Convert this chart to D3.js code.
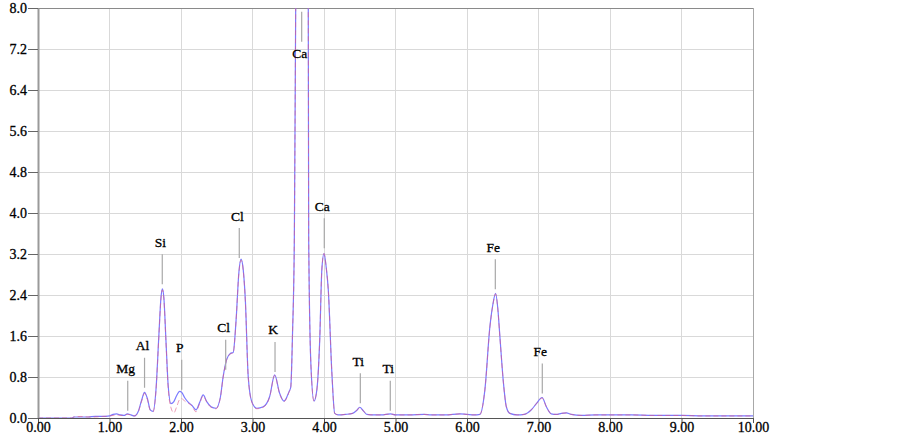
<!DOCTYPE html>
<html>
<head>
<meta charset="utf-8">
<script src="https://cdn.jsdelivr.net/npm/d3@7"></script>
<style>
  html, body { margin: 0; padding: 0; background: #fff; }
  svg { display: block; }
  text { font-family: "Liberation Serif", "Times New Roman", serif; stroke: #000; stroke-width: 0.3px; }
</style>
</head>
<body>
<svg id="chart" width="903" height="443"></svg>
<script>
// ---- data ----
const energy = [0.00,0.48,0.50,0.60,0.70,0.80,0.90,1.00,1.05,1.10,1.15,1.20,1.25,1.30,1.35,1.40,1.45,1.49,1.53,1.57,1.61,1.65,1.69,1.72,1.74,1.76,1.79,1.82,1.86,1.90,1.94,1.98,2.01,2.05,2.10,2.15,2.21,2.26,2.31,2.36,2.42,2.49,2.55,2.59,2.64,2.69,2.73,2.77,2.81,2.84,2.87,2.90,2.94,2.99,3.06,3.15,3.24,3.31,3.38,3.44,3.51,3.535,3.56,3.585,3.604,3.64,3.69,3.74,3.78,3.786,3.818,3.86,3.90,3.94,3.97,4.00,4.03,4.06,4.11,4.15,4.20,4.30,4.40,4.46,4.50,4.55,4.60,4.70,4.80,4.93,5.00,5.20,5.40,5.50,5.70,5.90,6.00,6.10,6.18,6.25,6.32,6.36,6.40,6.43,6.46,6.51,6.55,6.60,6.70,6.80,6.90,6.97,7.05,7.11,7.18,7.25,7.32,7.39,7.46,7.60,7.80,8.00,8.30,8.60,9.00,9.30,9.60,10.00];
const blueCounts = [0,0,0.02,0.02,0.02,0.03,0.03,0.04,0.07,0.08,0.06,0.05,0.08,0.06,0.04,0.12,0.35,0.50,0.38,0.16,0.13,0.55,1.60,2.35,2.52,2.35,1.50,0.65,0.28,0.32,0.44,0.52,0.50,0.40,0.31,0.25,0.16,0.30,0.45,0.32,0.22,0.19,0.40,0.81,1.15,1.26,1.28,1.90,2.85,3.10,2.90,2.30,0.81,0.32,0.19,0.22,0.42,0.84,0.48,0.33,0.51,0.60,1.66,3.47,8.0,18,24,18,8.0,3.47,1.0,0.33,0.55,1.52,2.90,3.21,2.95,2.50,0.88,0.09,0.06,0.07,0.09,0.15,0.21,0.14,0.07,0.06,0.06,0.08,0.06,0.06,0.07,0.06,0.06,0.08,0.07,0.06,0.07,0.55,1.78,2.20,2.43,2.15,1.59,0.68,0.22,0.09,0.06,0.07,0.16,0.28,0.40,0.22,0.08,0.07,0.09,0.10,0.07,0.05,0.06,0.06,0.06,0.05,0.05,0.04,0.04,0.04];
const redCounts = [0,0,0.02,0.03,0.02,0.02,0.03,0.04,0.05,0.06,0.05,0.05,0.07,0.06,0.04,0.11,0.33,0.48,0.36,0.15,0.12,0.53,1.58,2.33,2.50,2.33,1.48,0.60,0.20,0.10,0.22,0.36,0.38,0.33,0.29,0.24,0.12,0.28,0.43,0.31,0.21,0.18,0.39,0.80,1.14,1.25,1.27,1.89,2.84,3.08,2.88,2.28,0.80,0.31,0.18,0.21,0.41,0.83,0.47,0.32,0.50,0.60,1.66,3.47,8.0,18,24,18,8.0,3.47,1.0,0.33,0.55,1.52,2.90,3.21,2.95,2.50,0.88,0.09,0.06,0.07,0.09,0.15,0.20,0.14,0.07,0.06,0.06,0.08,0.06,0.06,0.07,0.06,0.06,0.08,0.07,0.06,0.07,0.55,1.77,2.19,2.42,2.14,1.58,0.68,0.22,0.09,0.06,0.07,0.16,0.28,0.39,0.22,0.08,0.07,0.09,0.10,0.07,0.05,0.06,0.06,0.06,0.05,0.05,0.04,0.04,0.04];

const peakNames  = ["Mg","Al","Si","P","Cl","Cl","K","Ca","Ca","Ti","Ti","Fe","Fe"];
const peakEnergy = [1.255,1.49,1.738,2.01,2.625,2.815,3.315,3.688,4.004,4.508,4.927,6.396,7.053];
const peakMark   = [0.14,0.59,2.61,0.55,0.94,3.12,0.90,7.34,3.31,0.29,0.14,2.51,0.48];
const peakLabelBelow = [false,false,false,false,false,false,false,true,false,false,false,false,false];

const xTicks = [0,1,2,3,4,5,6,7,8,9,10];
const yTicks = [0,0.8,1.6,2.4,3.2,4.0,4.8,5.6,6.4,7.2,8.0];

// ---- layout ----
const svg = d3.select("#chart");
const L = 38, R = 753, T = 8, B = 418;
const x = d3.scaleLinear().domain([0, 10]).range([L, R]);
const y = d3.scaleLinear().domain([0, 8]).range([B, T]);

// grid
svg.append("g").selectAll("line").data(yTicks.slice(1, -1)).join("line")
  .attr("x1", L).attr("x2", R).attr("y1", d => y(d)).attr("y2", d => y(d))
  .attr("stroke", "#d9d9d9").attr("stroke-width", 1).attr("shape-rendering", "crispEdges");
svg.append("g").selectAll("line").data(xTicks.slice(1, -1)).join("line")
  .attr("y1", T).attr("y2", B).attr("x1", d => x(d)).attr("x2", d => x(d))
  .attr("stroke", "#d9d9d9").attr("stroke-width", 1).attr("shape-rendering", "crispEdges");

// frame (top and right)
svg.append("line").attr("x1", L).attr("x2", R).attr("y1", T).attr("y2", T)
  .attr("stroke", "#8a8a8a").attr("shape-rendering", "crispEdges");
svg.append("line").attr("x1", R).attr("x2", R).attr("y1", T).attr("y2", B)
  .attr("stroke", "#a8a8a8").attr("shape-rendering", "crispEdges");

// clip
svg.append("defs").append("clipPath").attr("id", "plot")
  .append("rect").attr("x", L).attr("y", T).attr("width", R - L).attr("height", B - T);

// series
const pts = (vals) => energy.map((e, i) => [e, vals[i]]);
const line = d3.line().x(d => x(d[0])).y(d => y(d[1])).curve(d3.curveMonotoneX);
const g = svg.append("g").attr("clip-path", "url(#plot)");
g.append("path").attr("d", line(pts(blueCounts)))
  .attr("fill", "none").attr("stroke", "#7a7aff").attr("stroke-width", 1.2);
g.append("path").attr("d", line(pts(redCounts)))
  .attr("fill", "none").attr("stroke", "#e05a86").attr("stroke-width", 1)
  .attr("stroke-dasharray", "5,3").attr("opacity", 0.6);

// axes
const yAxis = d3.axisLeft(y).tickValues(yTicks).tickFormat(d3.format(".1f")).tickSize(10).tickSizeOuter(0);
const ya = svg.append("g").attr("transform", `translate(${L},0)`).call(yAxis);
ya.select(".domain").attr("stroke", "#9a9a9a").attr("stroke-width", 2);
ya.selectAll(".tick line").attr("stroke", "#666");
ya.selectAll(".tick text").attr("font-size", 14).attr("fill", "#000")
  .attr("font-family", "Liberation Serif, serif").attr("x", -11);

const xAxis = d3.axisBottom(x).tickValues(xTicks).tickFormat(d3.format(".2f")).tickSize(5).tickSizeOuter(0);
const xa = svg.append("g").attr("transform", `translate(0,${B})`).call(xAxis);
xa.select(".domain").attr("stroke", "#555").attr("stroke-width", 1);
xa.selectAll(".tick line").attr("stroke", "#555");
xa.selectAll(".tick text").attr("font-size", 14).attr("fill", "#000")
  .attr("font-family", "Liberation Serif, serif").attr("y", 4.5).attr("dy", "0.71em");

// peak labels
const peaks = peakNames.map((n, i) => ({ n, e: peakEnergy[i], v: peakMark[i], below: peakLabelBelow[i] }));
const pg = svg.append("g");
pg.selectAll("line").data(peaks).join("line")
  .attr("x1", d => x(d.e)).attr("x2", d => x(d.e))
  .attr("y1", d => y(d.v)).attr("y2", d => y(d.v) - 30)
  .attr("stroke", "#a8a8a8").attr("stroke-width", 1.2);
pg.selectAll("text").data(peaks).join("text")
  .attr("x", d => x(d.e) - 2)
  .attr("y", d => d.below ? y(d.v) + 16.5 : y(d.v) - 37.5)
  .attr("text-anchor", "middle").attr("font-size", 13.5).attr("fill", "#000")
  .text(d => d.n);
</script>
</body>
</html>
